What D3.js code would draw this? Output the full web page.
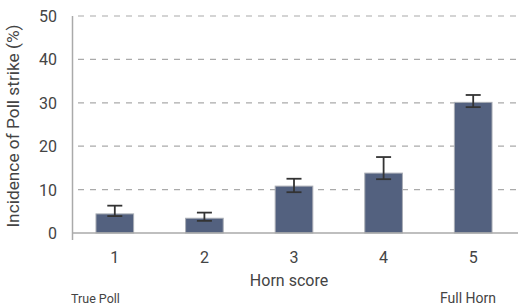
<!DOCTYPE html>
<html>
<head>
<meta charset="utf-8">
<script src="https://cdn.jsdelivr.net/npm/d3@7.9.0/dist/d3.min.js"></script>
<style>
  body { margin: 0; background: #fff; }
  svg { display: block; font-family: Roboto, "Noto Sans", sans-serif; }
</style>
</head>
<body>
<svg id="chart" width="518" height="307"></svg>
<script>
// data
const scores = ["1", "2", "3", "4", "5"];
const incidence = [4.4, 3.4, 10.8, 13.8, 30.1];
const errHigh = [6.3, 4.7, 12.5, 17.5, 31.8];
const errLow = [3.9, 2.8, 9.4, 12.4, 29.0];
const yTicks = [0, 10, 20, 30, 40, 50];

const svg = d3.select("#chart");
const x = d3.scaleBand().domain(scores).range([70, 518]).paddingInner(0.58).paddingOuter(0.29);
const y = d3.scaleLinear().domain([0, 50]).range([233, 16]);

// gridlines
svg.append("g")
  .selectAll("line")
  .data(yTicks.filter(t => t > 0))
  .join("line")
  .attr("x1", 78).attr("x2", 518)
  .attr("y1", d => y(d)).attr("y2", d => y(d))
  .attr("stroke", "#aaa")
  .attr("stroke-width", 1.2)
  .attr("stroke-dasharray", "6,6");

// bars
svg.append("g")
  .selectAll("rect")
  .data(scores)
  .join("rect")
  .attr("x", d => x(d))
  .attr("width", x.bandwidth())
  .attr("y", (d, i) => y(incidence[i]))
  .attr("height", (d, i) => y(0) - y(incidence[i]))
  .attr("fill", "#53617f")
  .attr("stroke", "#a9adb5")
  .attr("stroke-width", 1);

// axes lines
svg.append("line")
  .attr("x1", 72.5).attr("x2", 72.5)
  .attr("y1", y(50)).attr("y2", y(0) + 7)
  .attr("stroke", "#aaa").attr("stroke-width", 1.5);
svg.append("line")
  .attr("x1", 72).attr("x2", 518)
  .attr("y1", y(0)).attr("y2", y(0))
  .attr("stroke", "#aaa").attr("stroke-width", 1.5);

// error bars
const eb = svg.append("g").attr("stroke", "#333").attr("stroke-width", 1.8);
scores.forEach((s, i) => {
  const cx = x(s) + x.bandwidth() / 2;
  eb.append("line").attr("x1", cx).attr("x2", cx)
    .attr("y1", y(errHigh[i])).attr("y2", y(errLow[i]));
  [errHigh[i], errLow[i]].forEach(v => {
    eb.append("line").attr("x1", cx - 7.5).attr("x2", cx + 7.5)
      .attr("y1", y(v)).attr("y2", y(v));
  });
});

// y tick labels
svg.append("g")
  .selectAll("text")
  .data(yTicks)
  .join("text")
  .attr("x", 57)
  .attr("y", d => y(d) + 6)
  .attr("text-anchor", "end")
  .attr("font-size", 16)
  .attr("fill", "#444")
  .text(d => d);

// x tick labels
svg.append("g")
  .selectAll("text")
  .data(scores)
  .join("text")
  .attr("x", d => x(d) + x.bandwidth() / 2)
  .attr("y", 263)
  .attr("text-anchor", "middle")
  .attr("font-size", 16)
  .attr("fill", "#444")
  .text(d => d);

svg.append("text")
  .attr("x", 289).attr("y", 286)
  .attr("text-anchor", "middle")
  .attr("font-size", 16)
  .attr("fill", "#444")
  .text("Horn score");

svg.append("text")
  .attr("transform", "translate(19,126) rotate(-90)")
  .attr("text-anchor", "middle")
  .attr("font-size", 17.3)
  .attr("fill", "#444")
  .text("Incidence of Poll strike (%)");

svg.append("text")
  .attr("x", 71).attr("y", 303)
  .attr("font-size", 12.5)
  .attr("fill", "#444")
  .text("True Poll");

svg.append("text")
  .attr("x", 496).attr("y", 303)
  .attr("text-anchor", "end")
  .attr("font-size", 14)
  .attr("fill", "#444")
  .text("Full Horn");
</script>
</body>
</html>
